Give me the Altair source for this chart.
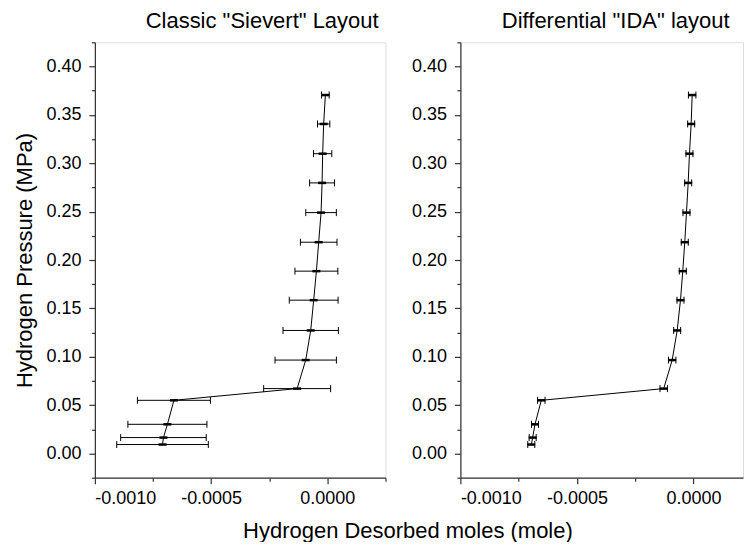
import altair as alt
import pandas as pd

# ---- data ----
pressure = [0.3705, 0.3406, 0.3099, 0.2797, 0.2490, 0.2184, 0.1885, 0.1585,
            0.1272, 0.0966, 0.0671, 0.0550, 0.0302, 0.0165, 0.0093]
sievert_moles = [-0.0000086, -0.0000159, -0.0000202, -0.0000227, -0.0000271,
                 -0.0000373, -0.0000472, -0.0000588, -0.0000717, -0.0000931,
                 -0.000130, -0.000660, -0.000688, -0.000705, -0.000709]
sievert_err = [0.0000165, 0.0000265, 0.0000393, 0.0000536, 0.0000657,
               0.0000787, 0.0000923, 0.000105, 0.000119, 0.000132,
               0.000144, 0.000157, 0.000170, 0.000184, 0.000197]
ida_moles = [-0.0000060, -0.0000103, -0.0000176, -0.0000231, -0.0000304,
             -0.0000377, -0.0000463, -0.0000561, -0.0000703, -0.0000917,
             -0.000128, -0.000653, -0.000680, -0.000690, -0.000696]
ida_err = [0.000016, 0.000015, 0.000015, 0.000015, 0.000015,
           0.000015, 0.000015, 0.000015, 0.000015, 0.000016,
           0.000016, 0.000016, 0.000015, 0.000015, 0.000015]

x_ticks = [-0.001, -0.00075, -0.0005, -0.00025, 0.0, 0.00025]
y_ticks = [-0.025, 0.0, 0.025, 0.05, 0.075, 0.1, 0.125, 0.15, 0.175, 0.2,
           0.225, 0.25, 0.275, 0.3, 0.325, 0.35, 0.375, 0.4, 0.425]

titles = ['Classic "Sievert" Layout', 'Differential "IDA" layout']
x_title = "Hydrogen Desorbed moles (mole)"
y_title = "Hydrogen Pressure (MPa)"

FONT = "Liberation Sans"
AX = "#333333"


def make_df(moles, err):
    return pd.DataFrame({"idx": list(range(len(pressure))), "pressure": pressure,
                         "moles": moles, "err": err})


x_major = "abs(datum.value*2000 - round(datum.value*2000)) < 0.001"
y_major = "abs(datum.value*20 - round(datum.value*20)) < 0.001"


def xaxis():
    return alt.Axis(values=x_ticks, labelOverlap=False, grid=False,
                    labelExpr=f"({x_major}) ? replace(format(datum.value, '.4f'), '\u2212', '-') : ''",
                    tickSize={"condition": {"test": x_major, "value": 6}, "value": 3.5},
                    labelPadding=5.5, labelFont=FONT, labelFontSize=18, labelColor="black",
                    domainColor=AX, tickColor=AX, domainWidth=1.2, tickWidth=1.2)


def yaxis():
    return alt.Axis(values=y_ticks, labelOverlap=False, grid=False,
                    labelExpr=f"({y_major}) ? format(datum.value, '.2f') : ''",
                    tickSize={"condition": {"test": y_major, "value": 6}, "value": 3.5},
                    labelPadding=8, labelFont=FONT, labelFontSize=18, labelColor="black",
                    domainColor=AX, tickColor=AX, domainWidth=1.2, tickWidth=1.2,
                    titleFont=FONT, titleFontSize=22, titleFontWeight="normal",
                    titleColor="black", titlePadding=9)


def panel(moles, err, title, width, xmax, dx, show_ytitle):
    df = make_df(moles, err)
    xs = alt.Scale(domain=[-0.001, xmax], nice=False, zero=False)
    ys = alt.Scale(domain=[-0.025, 0.425], nice=False, zero=False)
    yt = y_title if show_ytitle else None
    ax_x = xaxis()
    ax_y = yaxis()
    base = alt.Chart(df).transform_calculate(
        lo="datum.moles - datum.err", hi="datum.moles + datum.err")

    def X(f):
        return alt.X(f"{f}:Q", scale=xs, axis=ax_x, title=None)

    def Y():
        return alt.Y("pressure:Q", scale=ys, axis=ax_y, title=yt)

    line = base.mark_line(color="black", strokeWidth=1).encode(
        x=X("moles"), y=Y(), order="idx:Q")
    bars = base.mark_rule(color="black", strokeWidth=1).encode(
        x=X("lo"), x2="hi:Q", y=Y())
    cap_lo = base.mark_point(shape="M0,-1V1", size=49, color="black",
                             strokeWidth=1, filled=False, opacity=1).encode(x=X("lo"), y=Y())
    cap_hi = base.mark_point(shape="M0,-1V1", size=49, color="black",
                             strokeWidth=1, filled=False, opacity=1).encode(x=X("hi"), y=Y())
    center = base.mark_point(shape="M-1,0H1", size=64, color="black",
                             strokeWidth=2.5, filled=False, opacity=1).encode(x=X("moles"), y=Y())
    return alt.layer(bars, cap_lo, cap_hi, line, center).properties(
        width=width, height=436,
        title=alt.TitleParams(title, font=FONT, fontSize=22, fontWeight="normal",
                              color="black", dx=dx, offset=0))


left = panel(sievert_moles, sievert_err, titles[0], 291, 0.00025, 22, True)
right = panel(ida_moles, ida_err, titles[1], 283, 0.000212, 14, False)

chart = alt.hconcat(left, right, spacing=23).properties(
    title=alt.TitleParams(x_title, orient="bottom", anchor="middle", font=FONT,
                          fontSize=22, fontWeight="normal", color="black",
                          dx=29.5, offset=13),
    padding={"left": 13, "top": 9, "right": 0, "bottom": 0},
).configure_view(stroke=None).configure(background="white")

chart.save("out.html", embed_options={"renderer": "svg", "actions": False})
